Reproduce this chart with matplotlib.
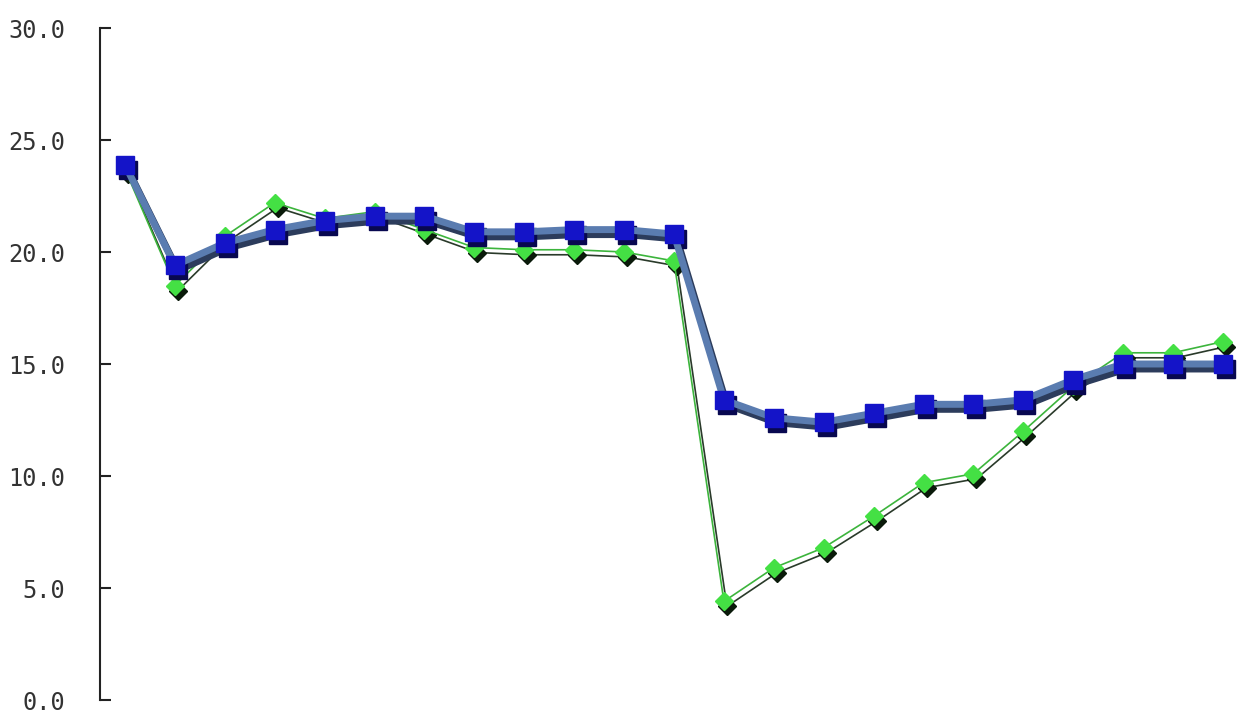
import numpy as np
import matplotlib
matplotlib.use("Agg")
import matplotlib.pyplot as plt
from matplotlib.transforms import offset_copy

# values (23 categories, no x labels)
blue_vals = [23.9, 19.4, 20.4, 21.0, 21.4, 21.6, 21.6, 20.9, 20.9, 21.0, 21.0, 20.8,
             13.4, 12.6, 12.4, 12.8, 13.2, 13.2, 13.4, 14.3, 15.0, 15.0, 15.0]
green_vals = [23.7, 18.5, 20.7, 22.2, 21.5, 21.8, 21.0, 20.2, 20.1, 20.1, 20.0, 19.6,
              4.4, 5.9, 6.8, 8.2, 9.7, 10.1, 12.0, 14.0, 15.5, 15.5, 16.0]
y_ticks = [0, 5, 10, 15, 20, 25, 30]

W, H = 1241, 724
fig = plt.figure(figsize=(W / 100, H / 100), dpi=100)
ax = fig.add_axes([100 / W, 24 / H, 1 - 100 / W, 672 / H])

x = np.arange(len(blue_vals))
shadow = offset_copy(ax.transData, fig=fig, x=3, y=-5, units="dots")

# green series: thin line, diamonds, dark drop shadow
ax.plot(x, green_vals, color="#2a3a2a", lw=1.2, marker="D", ms=9,
        mfc="#0a1a0a", mec="#0a1a0a", transform=shadow, zorder=2)
ax.plot(x, green_vals, color="#3cb43c", lw=1.2, marker="D", ms=9,
        mfc="#44e044", mec="#44e044", zorder=3)

# blue series: thick steel-blue line, squares, navy shadow
ax.plot(x, blue_vals, color="#2c3c5c", lw=5, marker="s", ms=13,
        mfc="#080850", mec="#080850", transform=shadow, zorder=4)
ax.plot(x, blue_vals, color="#5a7cb0", lw=5, marker="s", ms=13,
        mfc="#1414c8", mec="#1414c8", zorder=5)

ax.set_xlim(-0.5, 22.36)
ax.set_ylim(0, 30)
ax.set_yticks(y_ticks)
ax.set_yticklabels([f"{v:.1f}" for v in y_ticks])
ax.set_xticks([])

for side in ("top", "right", "bottom"):
    ax.spines[side].set_visible(False)
ax.spines["left"].set_color("#222222")
ax.spines["left"].set_linewidth(1.5)

ax.tick_params(axis="y", direction="in", length=8, width=1.5, color="#222222",
               pad=25, labelsize=17, labelcolor="#333333")
for lab in ax.get_yticklabels():
    lab.set_family("DejaVu Sans Mono")

fig.savefig("out.png", dpi=100)
